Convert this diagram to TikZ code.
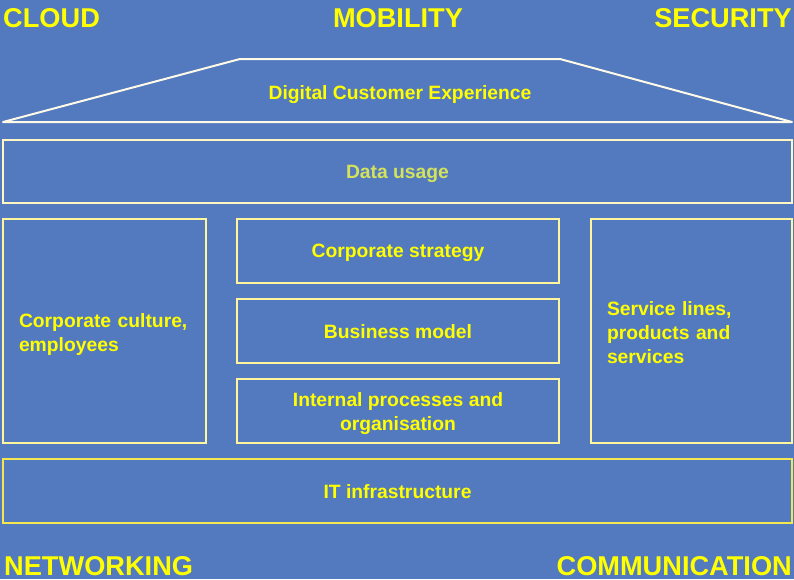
\documentclass[tikz,border=0pt]{standalone}
\usepackage{fontspec}
\setmainfont{Liberation Sans}
\usetikzlibrary{positioning}

\definecolor{housebg}{HTML}{5379BE}
\definecolor{signyellow}{HTML}{FFFF00}
\definecolor{datagreen}{HTML}{D4E35C}
\definecolor{roofwhite}{HTML}{FFFBE8}
\definecolor{datacream}{HTML}{FFF6C4}
\definecolor{pillaryellow}{HTML}{FFF59C}
\definecolor{baseyellow}{HTML}{F3E64E}

\begin{document}
\begin{tikzpicture}[
    x=1pt, y=-1pt,
    node distance=16pt,
    block/.style={
      % The shape:
      rectangle,
      inner sep=0pt,
      outer sep=0pt,
      align=center,
      % The border:
      line width=2pt,
      draw=pillaryellow,
      % Font
      text=signyellow,
      font=\fontsize{19.3}{24}\selectfont\bfseries,
      text depth=0pt,
    },
    pillar/.style={
      block,
      minimum width=#1,
      minimum height=224pt,
      text width=#1-32pt,
      align=left,
    },
    corner/.style={
      text=signyellow,
      inner sep=0pt,
      font=\fontsize{27.2}{30}\selectfont\bfseries,
    }]

    % background and page size
    \fill[housebg] (0,0) rectangle (794,579);
    \useasboundingbox (0,0) rectangle (794,579);

    % the roof
    \draw[line width=2pt, draw=roofwhite, line join=round]
          (3,122) -- (240,59) -- (560,59) -- (792,122) -- cycle;
    \node[block, draw=none] (roof) at (400,93) {Digital Customer Experience};

    % the floors and the pillars
    \node[block, minimum width=789pt, minimum height=63pt,
          draw=datacream, text=datagreen] (datausage) at (397.5,171.5) {Data usage};
    \node[pillar=203pt, text depth=22pt] (culture) at (104.5,331) {Corporate culture,\\ employees};
    \node[block, minimum width=322pt, minimum height=64pt] (strategy) at (398,251) {Corporate strategy};
    \node[block, minimum width=322pt, minimum height=64pt] (model) [below=of strategy] {Business model};
    \node[block, minimum width=322pt, minimum height=64pt] (processes) [below=of model]
          {Internal processes and\\ organisation};
    \node[pillar=201pt, text depth=46pt] (services) at (691.5,331) {Service lines,\\ products and\\ services};
    \node[block, minimum width=789pt, minimum height=64pt,
          draw=baseyellow] (infra) at (397.5,491) {IT infrastructure};

    % the words in the corners
    \node[corner, anchor=base west] (cloud) at (3,27) {CLOUD};
    \node[corner, anchor=base] (mobility) at (398,27) {MOBILITY};
    \node[corner, anchor=base east] (security) at (792,27) {SECURITY};
    \node[corner, anchor=base west] (networking) at (4,575) {NETWORKING};
    \node[corner, anchor=base east] (communication) at (792,575) {COMMUNICATION};
  \end{tikzpicture}
\end{document}
